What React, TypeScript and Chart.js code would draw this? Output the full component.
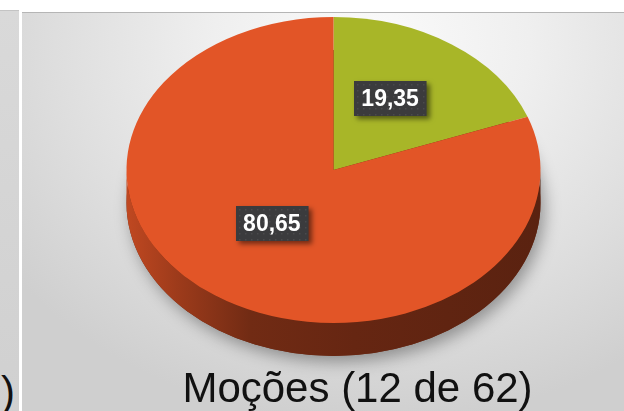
import React, { useEffect, useRef } from 'react';
import { Chart, registerables } from 'chart.js';

Chart.register(...registerables);

// ---- data ----
const categories = ['Aprovadas', 'Não aprovadas'];
const values = [19.35, 80.65];
const sliceColors = ['#A8B628', '#E25527'];
const titleText = 'Moções (12 de 62)';
const neighbourTitleTail = '2)';

// ---- layout / style constants ----
const FONT = '"Liberation Sans", Arial, Helvetica, sans-serif';
const CX = 333.5;
const CY = 170;
const RX = 207;
const RY = 153;
const DEPTH = 33;
const LABEL_R = 0.5;
const LABEL_OX = -2.5;
const LABEL_OY = -9;

function shade(hex: string, f: number): string {
  const n = parseInt(hex.slice(1), 16);
  const r = Math.round(((n >> 16) & 255) * f);
  const g = Math.round(((n >> 8) & 255) * f);
  const b = Math.round((n & 255) * f);
  return `rgb(${r},${g},${b})`;
}

const pie3d = {
  id: 'pie3d',
  beforeDatasetsDraw(chart: any) {
    const arcs = chart.getDatasetMeta(0).data as any[];
    if (!arcs.length) return;
    const { x, y, outerRadius } = arcs[0].getProps(['x', 'y', 'outerRadius'], true);
    const ctx = chart.ctx as CanvasRenderingContext2D;

    // soft drop shadow under the disc
    ctx.save();
    ctx.shadowColor = 'rgba(0,0,0,0.35)';
    ctx.shadowBlur = 16;
    ctx.shadowOffsetX = 4;
    ctx.shadowOffsetY = 6;
    ctx.fillStyle = '#6a2a14';
    ctx.beginPath();
    ctx.ellipse(CX, CY + DEPTH, RX, RY, 0, 0, Math.PI * 2);
    ctx.fill();
    ctx.restore();

    // visible side walls of each slice
    arcs.forEach((arc: any, i: number) => {
      const { startAngle, endAngle } = arc.getProps(['startAngle', 'endAngle'], true);
      const base = sliceColors[i];
      for (let k = -1; k <= 1; k++) {
        const s = Math.max(startAngle, 2 * Math.PI * k);
        const e = Math.min(endAngle, 2 * Math.PI * k + Math.PI);
        if (e <= s) continue;
        const g = ctx.createLinearGradient(CX - RX, 0, CX + RX, 0);
        g.addColorStop(0, shade(base, 0.85));
        g.addColorStop(0.12, shade(base, 0.7));
        g.addColorStop(0.3, shade(base, 0.5));
        g.addColorStop(0.55, shade(base, 0.45));
        g.addColorStop(1, shade(base, 0.4));
        ctx.fillStyle = g;
        ctx.beginPath();
        ctx.ellipse(CX, CY, RX, RY, 0, s, e, false);
        ctx.ellipse(CX, CY + DEPTH, RX, RY, 0, e, s, true);
        ctx.closePath();
        ctx.fill();
      }
    });

    // tilt the top face
    ctx.save();
    ctx.translate(CX, CY);
    ctx.scale(RX / outerRadius, RY / outerRadius);
    ctx.translate(-x, -y);
  },
  afterDatasetsDraw(chart: any) {
    const arcs = chart.getDatasetMeta(0).data as any[];
    if (!arcs.length) return;
    const ctx = chart.ctx as CanvasRenderingContext2D;
    ctx.restore();

    const data = chart.data.datasets[0].data as number[];
    arcs.forEach((arc: any, i: number) => {
      const { startAngle, endAngle } = arc.getProps(['startAngle', 'endAngle'], true);
      const mid = (startAngle + endAngle) / 2;
      const lx = CX + LABEL_OX + LABEL_R * RX * Math.cos(mid);
      const ly = CY + LABEL_OY + LABEL_R * RY * Math.sin(mid);
      const text = data[i].toFixed(2).replace('.', ',');
      ctx.save();
      ctx.font = `bold 23px ${FONT}`;
      const w = ctx.measureText(text).width + 15;
      const h = 35;
      const bx = Math.round(lx - w / 2);
      const by = Math.round(ly - h / 2);
      ctx.shadowColor = 'rgba(0,0,0,0.5)';
      ctx.shadowBlur = 5;
      ctx.shadowOffsetX = 3;
      ctx.shadowOffsetY = 3;
      ctx.fillStyle = '#3b3b3d';
      ctx.fillRect(bx, by, w, h);
      ctx.shadowColor = 'transparent';
      ctx.fillStyle = 'rgba(255,255,255,0.08)';
      for (let px = bx + 3; px < bx + w - 1; px += 6) {
        for (let py = by + 3; py < by + h - 1; py += 6) {
          ctx.fillRect(px, py, 1.5, 1.5);
        }
      }
      ctx.fillStyle = '#ffffff';
      ctx.textAlign = 'center';
      ctx.textBaseline = 'middle';
      ctx.fillText(text, lx, ly + 1);
      ctx.restore();
    });
  },
};

export default function App() {
  const canvasRef = useRef<HTMLCanvasElement | null>(null);

  useEffect(() => {
    if (!canvasRef.current) return;
    const chart = new Chart(canvasRef.current, {
      type: 'pie',
      data: {
        labels: categories,
        datasets: [
          {
            data: values,
            backgroundColor: sliceColors,
            borderWidth: 0,
            clip: false as any,
          } as any,
        ],
      },
      options: {
        responsive: true,
        maintainAspectRatio: false,
        animation: false,
        events: [],
        layout: { padding: { left: 91, right: 0, top: 0, bottom: 0 } },
        plugins: {
          legend: { display: false },
          tooltip: { enabled: false },
          title: {
            display: true,
            text: titleText,
            position: 'bottom',
            color: '#111111',
            font: { family: FONT, size: 42, weight: 'normal', lineHeight: 1 },
            padding: 0,
          },
        },
      },
      plugins: [pie3d as any],
    });
    return () => chart.destroy();
  }, []);

  return (
    <div
      style={{
        position: 'fixed',
        left: 0,
        top: 0,
        width: 624,
        height: 411,
        overflow: 'hidden',
        background: '#ffffff',
      }}
    >
      <div
        style={{
          position: 'absolute',
          left: 0,
          top: 10,
          width: 19,
          height: 401,
          background: 'linear-gradient(to bottom, #d9d9d9, #d0d0d0)',
          borderTop: '1px solid #c4c4c4',
          overflow: 'hidden',
        }}
      >
        <div
          style={{
            position: 'absolute',
            right: 4,
            top: 360,
            fontFamily: FONT,
            fontSize: 42,
            lineHeight: '42px',
            color: '#111',
            whiteSpace: 'nowrap',
          }}
        >
          {neighbourTitleTail}
        </div>
      </div>
      <div
        style={{
          position: 'absolute',
          left: 22,
          top: 12,
          width: 602,
          height: 399,
          borderTop: '1px solid #b5b5b5',
          background:
            'radial-gradient(ellipse 75% 95% at 58% 8%, #fbfbfb 0%, #efefef 35%, #dedede 70%, #cfcfcf 100%)',
        }}
      />
      <div style={{ position: 'absolute', left: 0, top: 0, width: 624, height: 411 }}>
        <canvas ref={canvasRef} />
      </div>
    </div>
  );
}
